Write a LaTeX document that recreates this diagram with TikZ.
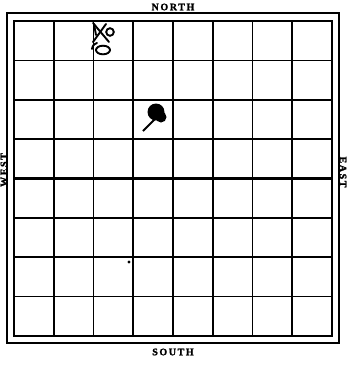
\documentclass[tikz,border=0pt]{standalone}
\usepackage{fontspec}
\setmainfont{Liberation Serif}
\begin{document}
\begin{tikzpicture}[x=1pt,y=-1pt,
  lbl/.style={font=\fontsize{10}{10}\selectfont\bfseries\addfontfeatures{LetterSpace=16,FakeBold=1.8}, inner sep=0pt},
  gridline/.style={line width=1.7pt},
  midline/.style={line width=2.7pt},
  penstroke/.style={line width=1.9pt, line cap=round}]
\useasboundingbox (0,0) rectangle (348,365);
% borders
\draw[line width=2.7pt] (7,13) rectangle (339,343);
\draw[line width=2pt] (14,21) rectangle (332,336);
% grid
\foreach \k in {1,2,3,5,6,7} {
  \draw[gridline] ({14+39.75*\k},21) -- ({14+39.75*\k},336);
  \draw[gridline] (14,{21+39.375*\k}) -- (332,{21+39.375*\k});
}
\draw[midline] (173,21) -- (173,336);
\draw[midline] (14,178.5) -- (332,178.5);
% labels
\node[lbl] (north) at (173,7) {NORTH};
\node[lbl] (south) at (173,352) {SOUTH};
\node[lbl, rotate=90] (west) at (4,170) {WEST};
\node[lbl, rotate=-90] (east) at (343,172) {EAST};
% figure: crossed mark with loop
\draw[penstroke] (93,23) -- (109,42);
\draw[penstroke] (106,24) -- (93,42);
\draw[penstroke] (94,24) -- (96,35);
\draw[penstroke] (110,32) circle (3.8);
\draw[penstroke] (103,50) ellipse (7 and 4.3);
\draw[penstroke] (92,49) .. controls (93,45) .. (97,43);
% figure: pin
\fill (156,112) circle (8.5);
\fill (161,117) circle (5.5);
\draw[line width=1.9pt] (143,131) -- (156,118);
% small smudge
\fill (129,262) circle (1.6);
\end{tikzpicture}
\end{document}
